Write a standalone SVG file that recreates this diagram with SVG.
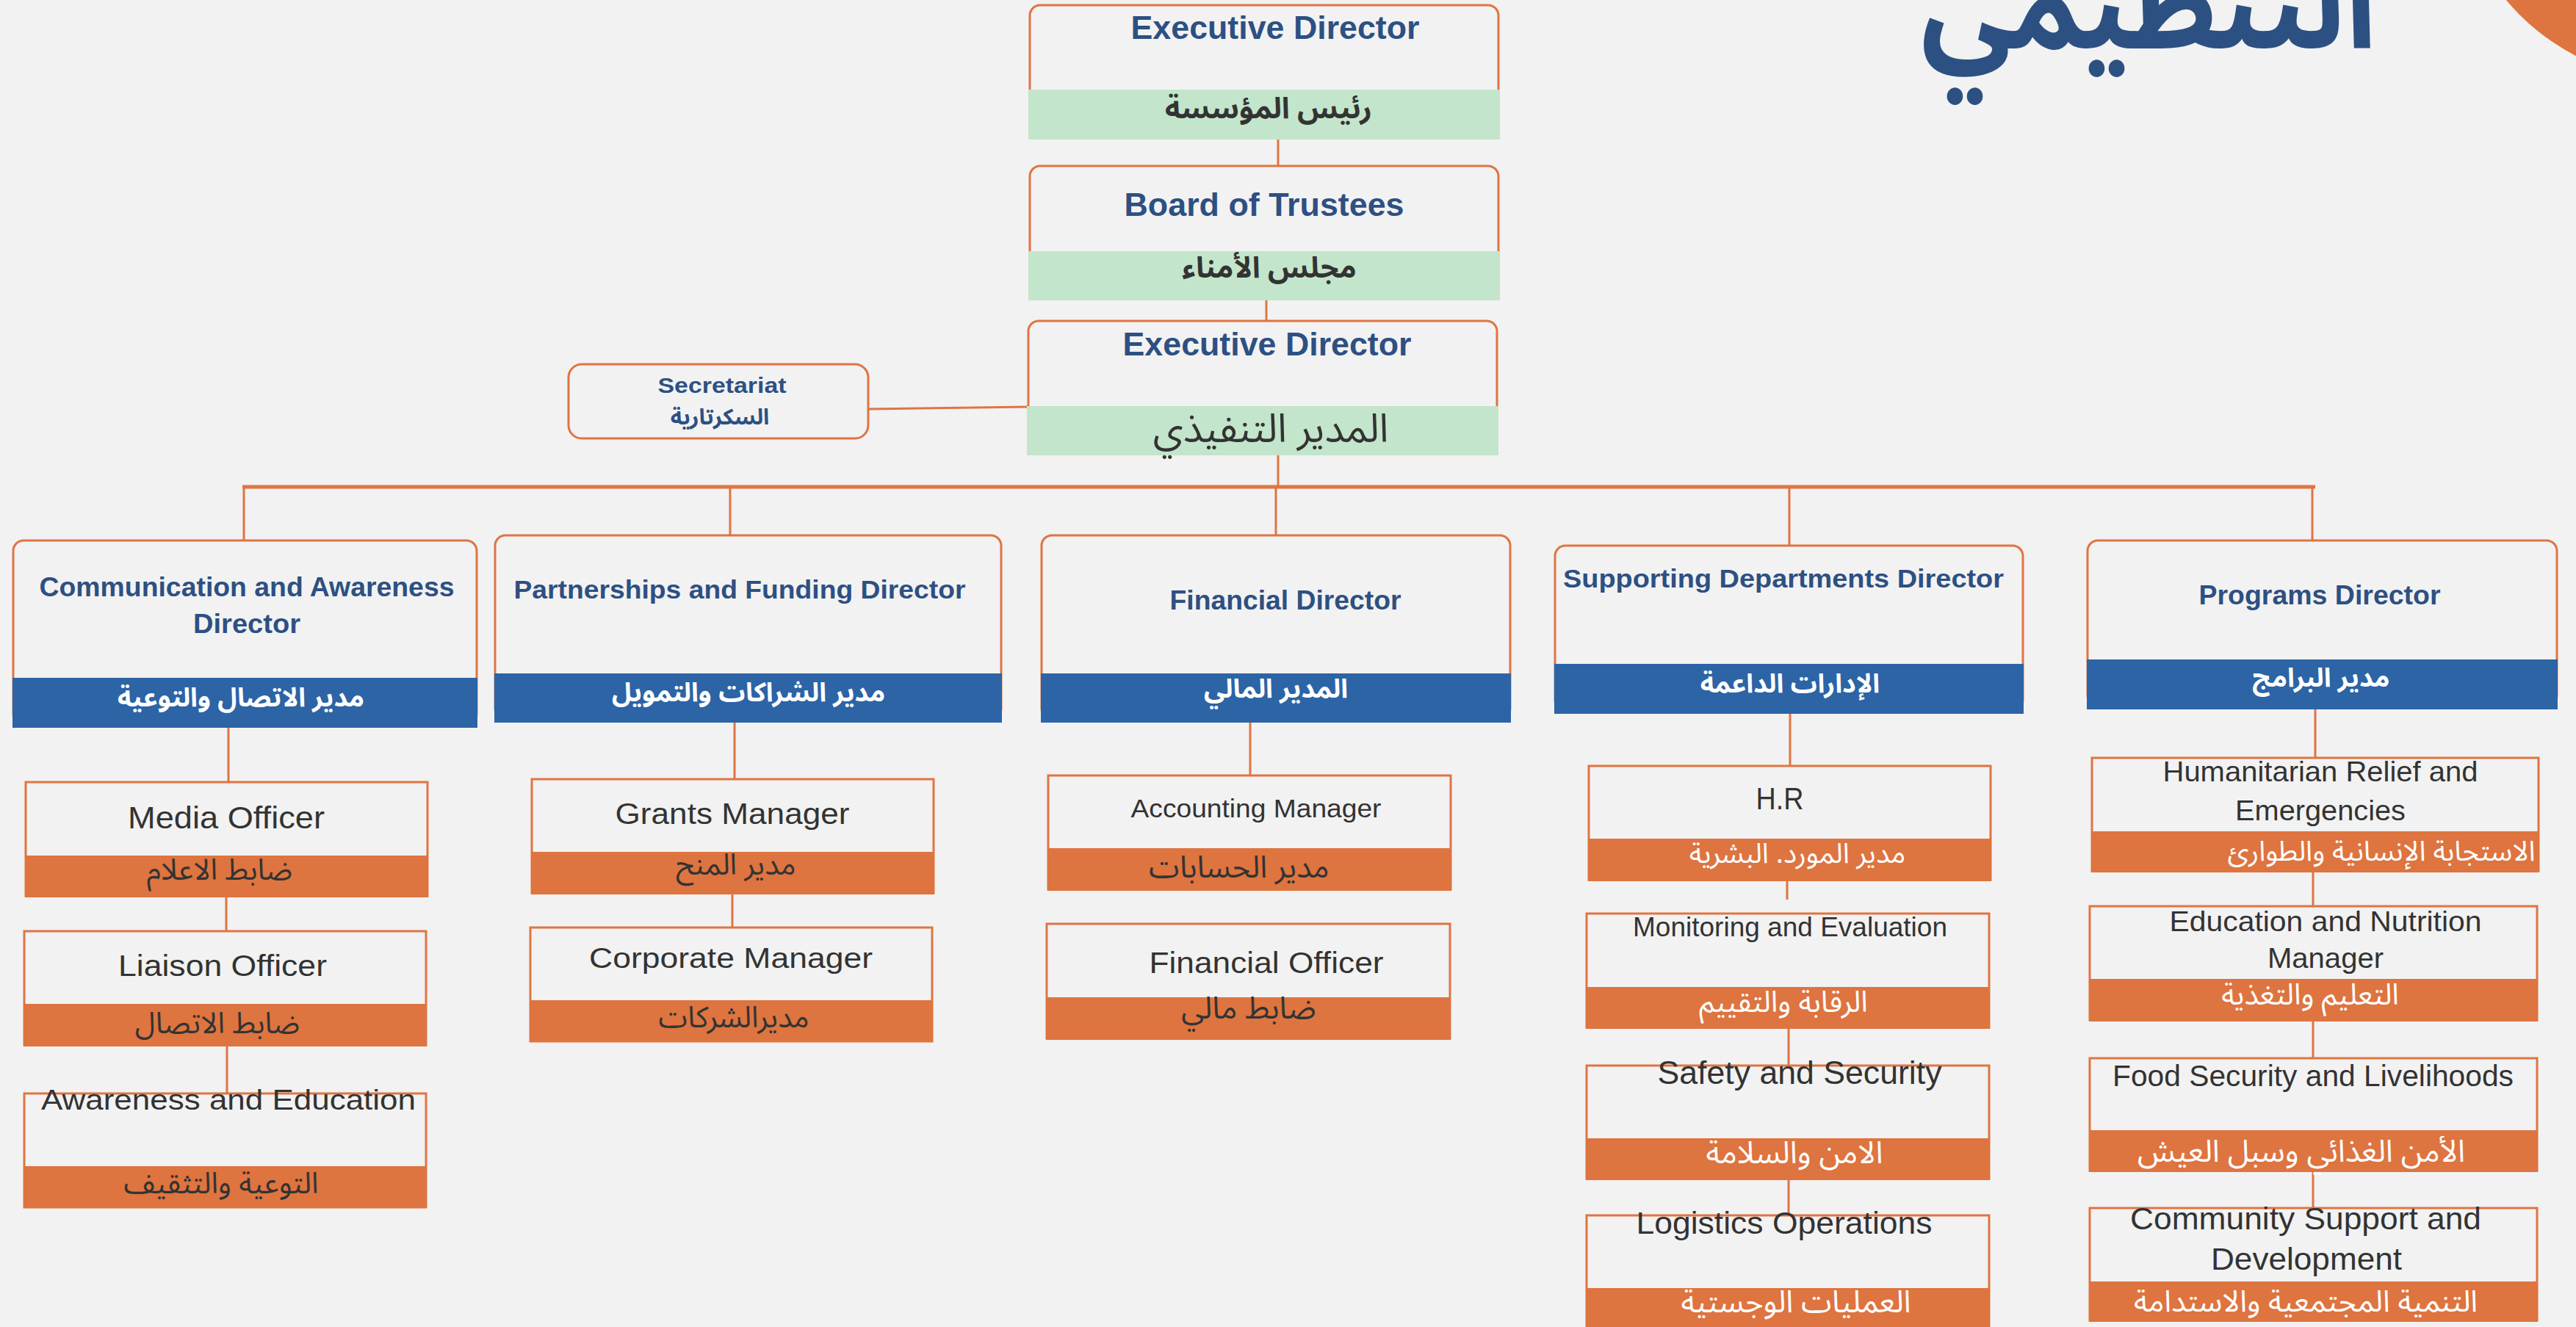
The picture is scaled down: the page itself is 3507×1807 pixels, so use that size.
<svg xmlns="http://www.w3.org/2000/svg" width="3507" height="1807" viewBox="0 0 3507 1807">
<style>
.bg{fill:#F2F2F2}
.box{fill:#F2F2F2;stroke:#E07442;stroke-width:3}
.green{fill:#C3E5CB}
.blue{fill:#2C64A6}
.orange{fill:#DE743F}
.ln{stroke:#E07442;stroke-width:3;fill:none}
.bus{stroke:#E07442;stroke-width:5;fill:none}
.hd{font-family:"Liberation Sans",Arial,sans-serif;font-weight:700;fill:#2D5082;text-anchor:middle}
.en{font-family:"Liberation Sans",Arial,sans-serif;fill:#333333;text-anchor:middle}
.ar{font-family:"Noto Sans Arabic","DejaVu Sans",sans-serif;text-anchor:middle}
.arb{font-family:"Noto Sans Arabic","DejaVu Sans",sans-serif;font-weight:700;text-anchor:middle}
.w{fill:#FFFFFF}
.d{fill:#333333}
.n{fill:#2D5082}
</style>
<rect class="bg" x="0" y="0" width="3507" height="1807"/>
<circle cx="3650" cy="-200" r="311" fill="#DE743F"/>
<text x="2925" y="65" font-family="Noto Sans Arabic, DejaVu Sans, sans-serif" font-weight="700" font-size="170" fill="#2D5082" text-anchor="middle" textLength="620" lengthAdjust="spacingAndGlyphs">التنظيمي</text>

<g id="connectors">
<line class="ln" x1="1740" y1="190" x2="1740" y2="226"/>
<line class="ln" x1="1724" y1="409" x2="1724" y2="437"/>
<line class="ln" x1="1182" y1="557" x2="1400" y2="554"/>
<line class="ln" x1="1740" y1="620" x2="1740" y2="663"/>
<line class="bus" x1="330" y1="663" x2="3152" y2="663"/>
<line class="ln" x1="332" y1="663" x2="332" y2="736"/>
<line class="ln" x1="994" y1="663" x2="994" y2="729"/>
<line class="ln" x1="1737" y1="663" x2="1737" y2="729"/>
<line class="ln" x1="2436" y1="663" x2="2436" y2="743"/>
<line class="ln" x1="3148" y1="663" x2="3148" y2="736"/>
<line class="ln" x1="311" y1="991" x2="311" y2="1065"/>
<line class="ln" x1="308" y1="1222" x2="308" y2="1268"/>
<line class="ln" x1="309" y1="1425" x2="309" y2="1489"/>
<line class="ln" x1="1000" y1="984" x2="1000" y2="1061"/>
<line class="ln" x1="997" y1="1218" x2="997" y2="1263"/>
<line class="ln" x1="1702" y1="984" x2="1702" y2="1056"/>
<line class="ln" x1="2437" y1="972" x2="2437" y2="1043"/>
<line class="ln" x1="2433" y1="1200" x2="2433" y2="1225"/>
<line class="ln" x1="2435" y1="1401" x2="2435" y2="1451"/>
<line class="ln" x1="2435" y1="1607" x2="2435" y2="1655"/>
<line class="ln" x1="3152" y1="966" x2="3152" y2="1032"/>
<line class="ln" x1="3149" y1="1188" x2="3149" y2="1234"/>
<line class="ln" x1="3149" y1="1391" x2="3149" y2="1441"/>
<line class="ln" x1="3149" y1="1596" x2="3149" y2="1645"/>
</g>

<g id="exec-top">
<rect class="box" x="1402" y="7" width="638" height="181" rx="14"/>
<rect class="green" x="1400" y="122" width="642" height="68"/>
<text class="hd" x="1736" y="53" font-size="44" textLength="393" lengthAdjust="spacingAndGlyphs">Executive Director</text>
<text class="arb d" x="1727" y="161" font-size="40">رئيس المؤسسة</text>
</g>

<g id="board">
<rect class="box" x="1402" y="226" width="638" height="181" rx="14"/>
<rect class="green" x="1400" y="342" width="642" height="67"/>
<text class="hd" x="1721" y="294" font-size="44" textLength="381" lengthAdjust="spacingAndGlyphs">Board of Trustees</text>
<text class="arb d" x="1728" y="378" font-size="40">مجلس الأمناء</text>
</g>

<g id="exec">
<rect class="box" x="1400" y="437" width="638" height="181" rx="14"/>
<rect class="green" x="1398" y="553" width="642" height="67"/>
<text class="hd" x="1725" y="484" font-size="44" textLength="393" lengthAdjust="spacingAndGlyphs">Executive Director</text>
<text class="ar d" x="1730" y="602" font-size="54">المدير التنفيذي</text>
</g>

<g id="secretariat">
<rect class="box" x="774" y="496" width="408" height="101" rx="18"/>
<text class="hd" x="983" y="535" font-size="30" textLength="175" lengthAdjust="spacingAndGlyphs">Secretariat</text>
<text class="arb n" x="980" y="578" font-size="30">السكرتارية</text>
</g>

<g id="dir-comm">
<rect class="box" x="18" y="736" width="631" height="250" rx="14"/>
<rect class="blue" x="17" y="923" width="633" height="68"/>
<text class="hd" x="336" y="812" font-size="36" textLength="565" lengthAdjust="spacingAndGlyphs">Communication and Awareness</text>
<text class="hd" x="336" y="862" font-size="36" textLength="146" lengthAdjust="spacingAndGlyphs">Director</text>
<text class="arb w" x="328" y="962" font-size="36">مدير الاتصال والتوعية</text>
</g>

<g id="dir-partner">
<rect class="box" x="674" y="729" width="689" height="250" rx="14"/>
<rect class="blue" x="673" y="917" width="691" height="67"/>
<text class="hd" x="1007" y="815" font-size="35" textLength="615" lengthAdjust="spacingAndGlyphs">Partnerships and Funding Director</text>
<text class="arb w" x="1019" y="955" font-size="36">مدير الشراكات والتمويل</text>
</g>

<g id="dir-fin">
<rect class="box" x="1418" y="729" width="638" height="250" rx="14"/>
<rect class="blue" x="1417" y="917" width="640" height="67"/>
<text class="hd" x="1750" y="830" font-size="36" textLength="315" lengthAdjust="spacingAndGlyphs">Financial Director</text>
<text class="arb w" x="1737" y="950" font-size="36">المدير المالي</text>
</g>

<g id="dir-support">
<rect class="box" x="2117" y="743" width="637" height="225" rx="14"/>
<rect class="blue" x="2116" y="904" width="639" height="68"/>
<text class="hd" x="2428" y="800" font-size="35" textLength="600" lengthAdjust="spacingAndGlyphs">Supporting Departments Director</text>
<text class="arb w" x="2437" y="943" font-size="36">الإدارات الداعمة</text>
</g>

<g id="dir-programs">
<rect class="box" x="2842" y="736" width="639" height="225" rx="14"/>
<rect class="blue" x="2841" y="898" width="641" height="68"/>
<text class="hd" x="3158" y="823" font-size="36" textLength="329" lengthAdjust="spacingAndGlyphs">Programs Director</text>
<text class="arb w" x="3160" y="935" font-size="36">مدير البرامج</text>
</g>

<g id="media-officer">
<rect class="box" x="35" y="1065" width="547" height="155"/>
<rect class="orange" x="34" y="1165" width="549" height="57"/>
<text class="en" x="308" y="1128" font-size="42" textLength="268" lengthAdjust="spacingAndGlyphs">Media Officer</text>
<text class="ar d" x="299" y="1198" font-size="40">ضابط الاعلام</text>
</g>

<g id="liaison-officer">
<rect class="box" x="33" y="1268" width="547" height="155"/>
<rect class="orange" x="32" y="1367" width="549" height="58"/>
<text class="en" x="303" y="1329" font-size="40" textLength="284" lengthAdjust="spacingAndGlyphs">Liaison Officer</text>
<text class="ar d" x="296" y="1407" font-size="40">ضابط الاتصال</text>
</g>

<g id="awareness-education">
<rect class="box" x="33" y="1489" width="547" height="155"/>
<rect class="orange" x="32" y="1588" width="549" height="57"/>
<text class="en" x="311" y="1511" font-size="38" textLength="510" lengthAdjust="spacingAndGlyphs">Awareness and Education</text>
<text class="ar d" x="301" y="1625" font-size="40">التوعية والتثقيف</text>
</g>

<g id="grants-manager">
<rect class="box" x="724" y="1061" width="547" height="155"/>
<rect class="orange" x="723" y="1160" width="549" height="58"/>
<text class="en" x="997" y="1122" font-size="40" textLength="319" lengthAdjust="spacingAndGlyphs">Grants Manager</text>
<text class="ar d" x="1002" y="1191" font-size="40">مدير المنح</text>
</g>

<g id="corporate-manager">
<rect class="box" x="722" y="1263" width="547" height="155"/>
<rect class="orange" x="721" y="1362" width="549" height="57"/>
<text class="en" x="995" y="1318" font-size="38" textLength="386" lengthAdjust="spacingAndGlyphs">Corporate Manager</text>
<text class="ar d" x="999" y="1399" font-size="40">مديرالشركات</text>
</g>

<g id="accounting-manager">
<rect class="box" x="1427" y="1056" width="548" height="155"/>
<rect class="orange" x="1426" y="1155" width="550" height="58"/>
<text class="en" x="1710" y="1113" font-size="35" textLength="341" lengthAdjust="spacingAndGlyphs">Accounting Manager</text>
<text class="ar d" x="1687" y="1195" font-size="42">مدير الحسابات</text>
</g>

<g id="financial-officer">
<rect class="box" x="1425" y="1258" width="549" height="156"/>
<rect class="orange" x="1424" y="1358" width="551" height="58"/>
<text class="en" x="1724" y="1325" font-size="40" textLength="319" lengthAdjust="spacingAndGlyphs">Financial Officer</text>
<text class="ar d" x="1700" y="1387" font-size="42">ضابط مالي</text>
</g>

<g id="hr">
<rect class="box" x="2163" y="1043" width="547" height="155"/>
<rect class="orange" x="2162" y="1142" width="549" height="58"/>
<text class="en" x="2423" y="1102" font-size="42" textLength="65" lengthAdjust="spacingAndGlyphs">H.R</text>
<text class="ar w" x="2447" y="1175" font-size="38">مدير المورد. البشرية</text>
</g>

<g id="monitoring-evaluation">
<rect class="box" x="2160" y="1244" width="548" height="155"/>
<rect class="orange" x="2159" y="1344" width="550" height="57"/>
<text class="en" x="2437" y="1275" font-size="36" textLength="428" lengthAdjust="spacingAndGlyphs">Monitoring and Evaluation</text>
<text class="ar w" x="2428" y="1378" font-size="40">الرقابة والتقييم</text>
</g>

<g id="safety-security">
<rect class="box" x="2160" y="1451" width="548" height="154"/>
<rect class="orange" x="2159" y="1550" width="550" height="57"/>
<text class="en" x="2450" y="1476" font-size="45" textLength="387" lengthAdjust="spacingAndGlyphs">Safety and Security</text>
<text class="ar w" x="2443" y="1584" font-size="42">الامن والسلامة</text>
</g>

<g id="logistics-operations">
<rect class="box" x="2160" y="1655" width="548" height="160"/>
<rect class="orange" x="2159" y="1754" width="550" height="60"/>
<text class="en" x="2429" y="1680" font-size="43" textLength="403" lengthAdjust="spacingAndGlyphs">Logistics Operations</text>
<text class="ar w" x="2445" y="1787" font-size="42">العمليات الوجستية</text>
</g>

<g id="humanitarian-relief">
<rect class="box" x="2848" y="1032" width="608" height="154"/>
<rect class="orange" x="2847" y="1132" width="610" height="56"/>
<text class="en" x="3159" y="1064" font-size="39" textLength="429" lengthAdjust="spacingAndGlyphs">Humanitarian Relief and</text>
<text class="en" x="3159" y="1117" font-size="39" textLength="232" lengthAdjust="spacingAndGlyphs">Emergencies</text>
<text class="ar w" x="3242" y="1172" font-size="38">الاستجابة الإنسانية والطوارئ</text>
</g>

<g id="education-nutrition">
<rect class="box" x="2845" y="1234" width="609" height="155"/>
<rect class="orange" x="2844" y="1333" width="611" height="58"/>
<text class="en" x="3166" y="1268" font-size="39" textLength="425" lengthAdjust="spacingAndGlyphs">Education and Nutrition</text>
<text class="en" x="3166" y="1318" font-size="39" textLength="158" lengthAdjust="spacingAndGlyphs">Manager</text>
<text class="ar w" x="3145" y="1368" font-size="40">التعليم والتغذية</text>
</g>

<g id="food-security">
<rect class="box" x="2845" y="1441" width="609" height="153"/>
<rect class="orange" x="2844" y="1539" width="611" height="57"/>
<text class="en" x="3149" y="1479" font-size="40" textLength="546" lengthAdjust="spacingAndGlyphs">Food Security and Livelihoods</text>
<text class="ar w" x="3133" y="1582" font-size="42">الأمن الغذائي وسبل العيش</text>
</g>

<g id="community-support">
<rect class="box" x="2845" y="1645" width="609" height="153"/>
<rect class="orange" x="2844" y="1745" width="611" height="55"/>
<text class="en" x="3139" y="1674" font-size="43" textLength="478" lengthAdjust="spacingAndGlyphs">Community Support and</text>
<text class="en" x="3140" y="1729" font-size="43" textLength="260" lengthAdjust="spacingAndGlyphs">Development</text>
<text class="ar w" x="3139" y="1786" font-size="41">التنمية المجتمعية والاستدامة</text>
</g>
</svg>
